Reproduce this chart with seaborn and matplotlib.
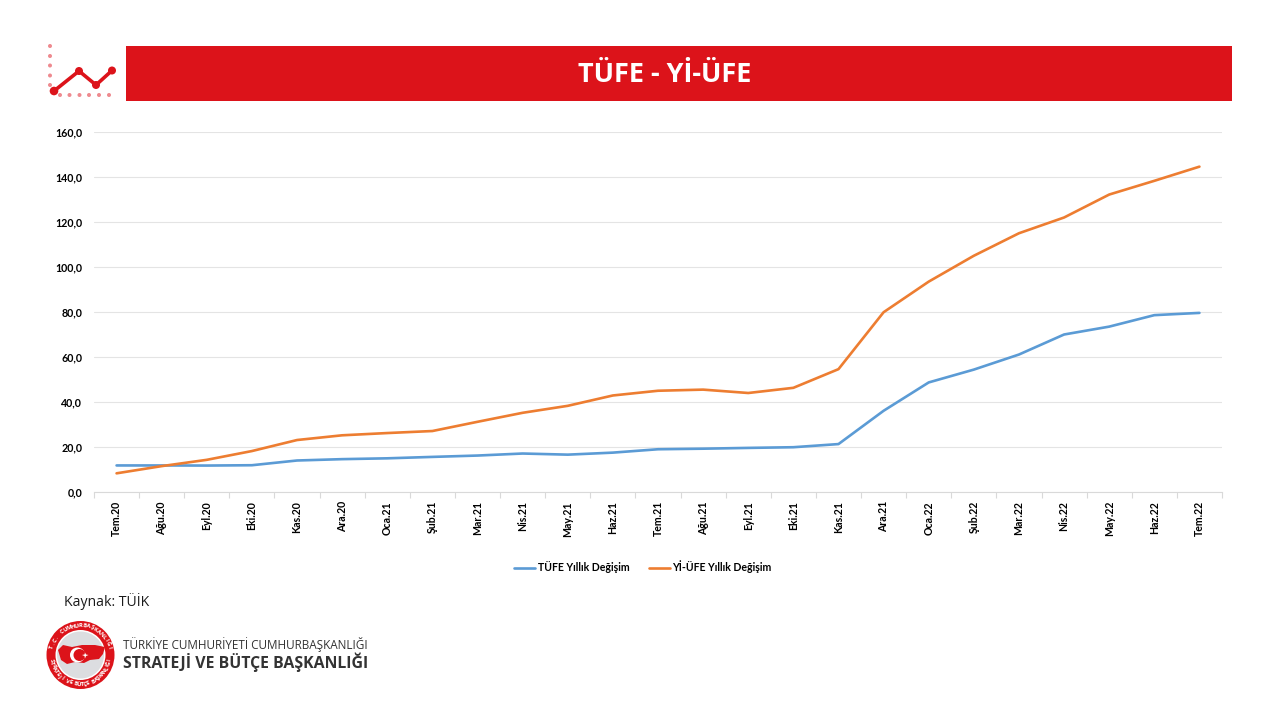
import numpy as np
import pandas as pd
import matplotlib
matplotlib.use('Agg')
import matplotlib.pyplot as plt
from matplotlib.patches import Circle, Polygon, Rectangle
import seaborn as sns

months = ['Tem.20', 'Ağu.20', 'Eyl.20', 'Eki.20', 'Kas.20', 'Ara.20', 'Oca.21', 'Şub.21', 'Mar.21',
          'Nis.21', 'May.21', 'Haz.21', 'Tem.21', 'Ağu.21', 'Eyl.21', 'Eki.21', 'Kas.21', 'Ara.21',
          'Oca.22', 'Şub.22', 'Mar.22', 'Nis.22', 'May.22', 'Haz.22', 'Tem.22']
tufe = [11.8, 11.8, 11.75, 11.9, 14.0, 14.6, 14.97, 15.6, 16.2, 17.1, 16.6, 17.5, 19.0, 19.25,
        19.6, 19.9, 21.3, 36.1, 48.7, 54.4, 61.1, 70.0, 73.5, 78.6, 79.6]
ufe = [8.3, 11.5, 14.3, 18.2, 23.1, 25.2, 26.2, 27.1, 31.2, 35.2, 38.3, 42.9, 45.0, 45.5,
       44.0, 46.3, 54.6, 79.9, 93.5, 105.0, 115.0, 122.0, 132.2, 138.3, 144.6]
series_names = ['TÜFE Yıllık Değişim', 'Yİ-ÜFE Yıllık Değişim']
y_ticks = [0, 20, 40, 60, 80, 100, 120, 140, 160]

RED = '#dc131a'
LIGHT_RED = '#ee8a8f'
W, H = 1280, 720

sns.set_theme(style='white')
plt.rcParams['font.family'] = ['Lato', 'DejaVu Sans']

df = pd.DataFrame({'ay': months * 2,
                   'deger': tufe + ufe,
                   'seri': [series_names[0]] * len(months) + [series_names[1]] * len(months)})

fig = plt.figure(figsize=(12.8, 7.2), dpi=100, facecolor='white')
ax = fig.add_axes([94 / W, 1 - 492 / H, (1222 - 94) / W, 360 / H])

sns.lineplot(data=df, x='ay', y='deger', hue='seri', palette=['#5b9bd5', '#ed7d31'],
             linewidth=1.9, sort=False, ax=ax)

ax.set_xlim(-0.5, len(months) - 0.5)
ax.set_ylim(0, 160)
ax.set_xlabel('')
ax.set_ylabel('')
ax.set_yticks(y_ticks)
ax.set_yticklabels([f'{v:.1f}'.replace('.', ',') for v in y_ticks], fontsize=7.7, fontweight='bold', color='black')
ax.set_xticks(range(len(months)))
ax.set_xticklabels(months, rotation=90, fontsize=7.6, fontweight='bold', color='black')
ax.set_xticks(np.arange(-0.5, len(months)), minor=True)
ax.tick_params(axis='x', which='major', length=0, pad=6.5)
ax.tick_params(axis='x', which='minor', bottom=True, length=4, width=0.8, color='#d9d9d9')
ax.tick_params(axis='y', length=0, pad=8.6)
ax.grid(axis='y', color='#e4e4e4', linewidth=0.8)
ax.set_axisbelow(True)
for side in ['top', 'right', 'left']:
    ax.spines[side].set_visible(False)
ax.spines['bottom'].set_color('#d9d9d9')
ax.spines['bottom'].set_linewidth(0.8)

ax.legend(loc='center', bbox_to_anchor=(643 / W, 1 - 567 / H), bbox_transform=fig.transFigure,
          ncol=2, frameon=False, title=None, handlelength=2.0, handletextpad=0.2, columnspacing=1.9,
          prop={'size': 7.6, 'weight': 'bold'}, labelcolor='black')

# decoration layer in pixel coordinates
deco = fig.add_axes([0, 0, 1, 1], zorder=5)
deco.set_xlim(0, W)
deco.set_ylim(H, 0)
deco.axis('off')
deco.patch.set_alpha(0)

deco.add_patch(Rectangle((126, 46), 1106, 55, facecolor=RED, edgecolor='none'))
deco.text(665, 75, 'TÜFE - Yİ-ÜFE', color='white', fontsize=19.5, fontweight='bold',
          family='Open Sans', ha='center', va='center')

# small chart icon
for y in [46, 56, 65.5, 75.5, 85]:
    deco.add_patch(Circle((50, y), 2, color=LIGHT_RED, lw=0))
for x in [60, 69.5, 79.5, 89, 99, 109]:
    deco.add_patch(Circle((x, 95), 2, color=LIGHT_RED, lw=0))
icon_x = [54, 79, 96, 112]
icon_y = [91, 71, 85, 70.5]
deco.plot(icon_x, icon_y, color=RED, lw=2.6, solid_capstyle='round')
for x, y, r in zip(icon_x, icon_y, [4.3, 4, 4, 4]):
    deco.add_patch(Circle((x, y), r, color=RED, lw=0))

deco.text(64, 601, 'Kaynak: TÜİK', fontsize=10.1, family='Open Sans', color='#1a1a1a', ha='left', va='center')

# emblem
cx, cy = 80.5, 655
deco.add_patch(Circle((cx, cy), 34, color=RED, lw=0))
deco.add_patch(Circle((cx, cy), 25, color='white', lw=0))
deco.add_patch(Circle((cx, cy), 23.5, color='#dcdde0', lw=0))
deco.add_patch(Polygon([(58, 650), (63, 645), (72, 647), (82, 645), (95, 645), (105, 647), (103, 654), (99, 659),
                        (90, 660), (84, 663), (75, 662), (67, 664), (61, 660)], closed=True, color=RED, lw=0))
deco.add_patch(Circle((77.5, 655), 7.5, color='white', lw=0))
deco.add_patch(Circle((79.5, 655), 6, color=RED, lw=0))
deco.add_patch(Polygon([(85, 652.5), (86, 654.5), (88.5, 655), (86, 656), (85, 658.5), (84.5, 656), (82, 655), (84.5, 654.5)],
                       closed=True, color='white', lw=0))


def ring_text(text, start, end, radius, flip=False):
    angles = np.linspace(start, end, len(text))
    for ch, a in zip(text, angles):
        x = cx + radius * np.cos(np.radians(a))
        y = cy - radius * np.sin(np.radians(a))
        rot = a + 90 if flip else a - 90
        deco.text(x, y, ch, color='white', fontsize=4.2, fontweight='bold', family='Open Sans',
                  ha='center', va='center', rotation=rot, rotation_mode='anchor')


ring_text('T.C. CUMHURBAŞKANLIĞI', 165, 15, 29.5)
ring_text('STRATEJİ VE BÜTÇE BAŞKANLIĞI', -170, -10, 29.5, flip=True)

deco.text(123, 645, 'TÜRKİYE CUMHURİYETİ CUMHURBAŞKANLIĞI', fontsize=8.45, family='Open Sans', color='#333333',
          ha='left', va='center')
deco.text(123, 662, 'STRATEJİ VE BÜTÇE BAŞKANLIĞI', fontsize=11.4, family='Open Sans', fontweight='bold',
          color='#333333', ha='left', va='center')

fig.savefig('out.png', dpi=100, facecolor='white')
